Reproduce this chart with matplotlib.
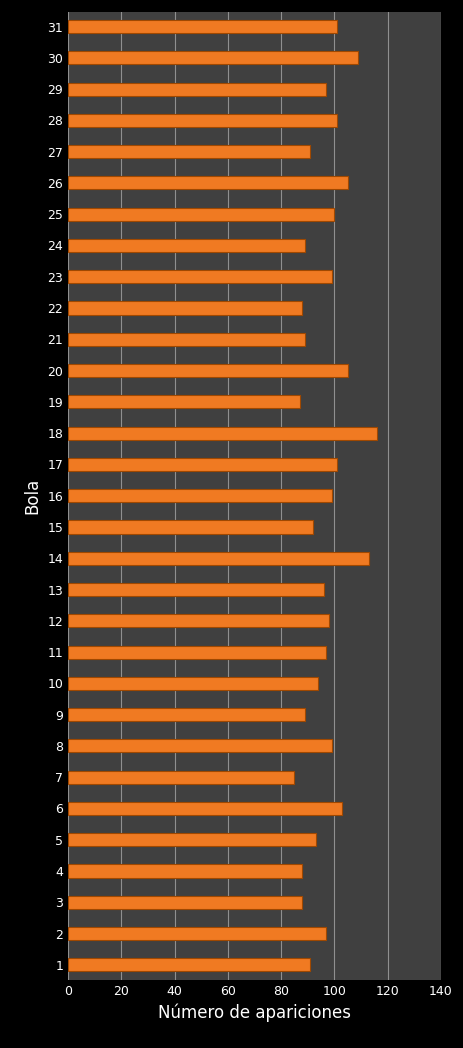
import matplotlib
matplotlib.use("Agg")
import matplotlib.pyplot as plt

bolas = list(range(1, 32))
apariciones = [91, 97, 88, 88, 93, 103, 85, 99, 89, 94, 97, 98, 96, 113, 92, 99,
               101, 116, 87, 105, 89, 88, 99, 89, 100, 105, 91, 101, 97, 109, 101]
xticks = [0, 20, 40, 60, 80, 100, 120, 140]

fig = plt.figure(figsize=(4.63, 10.48), dpi=100, facecolor="black")
ax = fig.add_axes([0.147, 0.065, 0.805, 0.924], facecolor="#404040")
ax.barh(bolas, apariciones, height=0.42, color="#F07A22", edgecolor="#A04800", linewidth=0.8, zorder=3)
ax.set_xlim(0, 140)
ax.set_ylim(0.52, 31.48)
ax.set_xticks(xticks)
ax.set_yticks(bolas)
ax.tick_params(colors="white", labelsize=9, length=0)
ax.grid(axis="x", color="#909090", linewidth=0.8, zorder=0)
for s in ax.spines.values():
    s.set_visible(False)
ax.set_xlabel("Número de apariciones", color="white", fontsize=12)
ax.set_ylabel("Bola", color="white", fontsize=12)
fig.savefig("out.png", facecolor="black")
